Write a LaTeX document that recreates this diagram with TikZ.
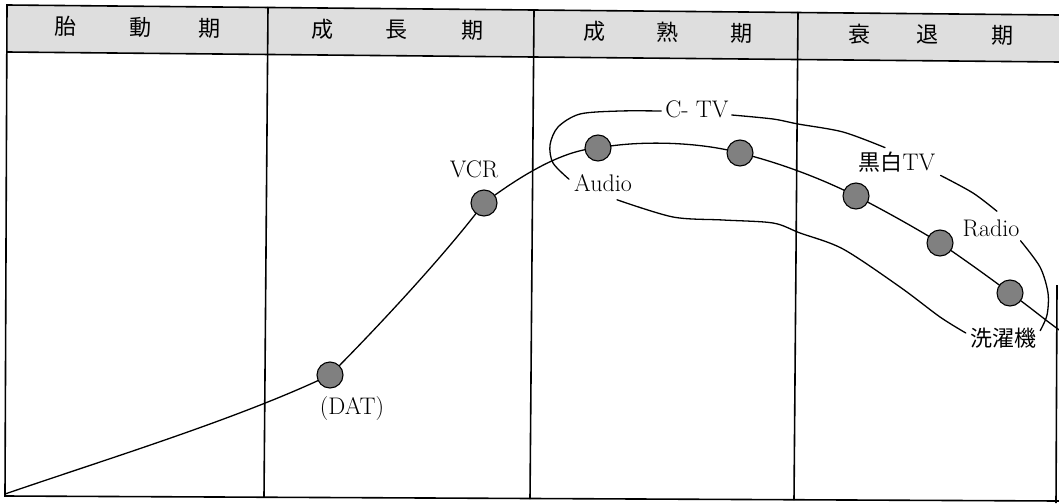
\documentclass[tikz,border=0pt]{standalone}
\usepackage{fontspec}
\newfontfamily\jp{Noto Sans CJK JP}
\usetikzlibrary{calc}
\begin{document}
\begin{tikzpicture}[x=1pt,y=-1pt,
  hdr/.style={font=\jp\fontsize{22}{22}\selectfont, inner sep=0pt, rotate=-0.55},
  lbl/.style={font=\fontsize{24}{24}\selectfont, inner sep=0pt},
  jlbl/.style={font=\jp\fontsize{22}{22}\selectfont, inner sep=0pt},
  dot/.style={circle, draw=black, line width=1.1pt, fill=black!50, minimum size=26pt, inner sep=0pt},
  frame/.style={line width=1.6pt},
  curve/.style={line width=1.3pt},
  loopline/.style={line width=1.3pt, line cap=round}
]
\useasboundingbox (0,0) rectangle (1059,503);
% header band and frame
\fill[black!13] (7,5) -- (1059,15) -- (1059,62) -- (7,52) -- cycle;
\draw[frame] (1059,15) -- (7,5) -- (5,496) -- (1059,501);
\draw[frame] (7,52) -- (1059,62);
\draw[frame] (268,7) -- (264,497);
\draw[frame] (534,10) -- (530,499);
\draw[frame] (798,12) -- (794,500);
\draw[frame] (1057,285) -- (1056,503);
\foreach \x/\c [count=\i] in {66/胎,141/動,210/期,323/成,397/長,473/期,595/成,668/熟,742/期,860/衰,928/退,1003/期}
  \node[hdr] (h\i) at (\x,{26+10*\x/1052}) {\c};
% curve points
\coordinate (p0) at (5,494);
\coordinate (cdat) at (330,375);
\coordinate (cvcr) at (484,203);
\coordinate (caudio) at (598,148);
\coordinate (cmid) at (740,153);
\coordinate (cbw) at (856,196);
\coordinate (cradio) at (940,243);
\coordinate (cwash) at (1010,293);
\coordinate (pend) at (1062,332);
\draw[curve] (p0) .. controls (110,458) and (240,418) .. (cdat)
  .. controls (375,330) and (445,255) .. (cvcr)
  .. controls (515,180) and (560,150) .. (caudio)
  .. controls (640,140) and (700,142) .. (cmid)
  .. controls (780,163) and (820,178) .. (cbw)
  .. controls (885,211) and (912,226) .. (cradio)
  .. controls (965,260) and (990,278) .. (cwash)
  .. controls (1030,307) and (1045,320) .. (pend);
\foreach \n in {dat,vcr,audio,mid,bw,radio,wash}
  \node[dot] (d\n) at (c\n) {};
% labels
\node[lbl] (lvcr) at (474,169) {VCR};
\node[lbl] (laudio) at (603,183) {Audio};
\node[lbl] (ldat) at (352,409) {(DAT)};
\node[lbl] (lctv) at (697,109) {C- TV};
\node[lbl] (lbw) at (897,162) {{\jp\fontsize{22}{22}\selectfont 黒白}TV};
\node[lbl] (lradio) at (991,228) {Radio};
\node[jlbl] (lwash) at (1003,338) {洗濯機};
% grouping loop
\coordinate (a1) at ($(laudio.north west)+(-5,5)$);
\coordinate (a2) at ($(lctv.west)+(-4,2)$);
\coordinate (b1) at ($(lctv.east)+(3,6)$);
\coordinate (b2) at ($(lbw.north)+(-12,-4)$);
\coordinate (c1) at ($(lbw.south east)+(5,3)$);
\coordinate (c2) at ($(lradio.north)+(6,-8)$);
\coordinate (e1) at ($(lradio.south east)+(1,4)$);
\coordinate (e2) at ($(lwash.north east)+(4,3)$);
\coordinate (f1) at ($(lwash.west)+(-4,-5)$);
\coordinate (f2) at ($(laudio.south)+(14,8)$);
\draw[loopline] plot[smooth] coordinates {(a1) (553,163) (550,145) (558,127) (580,114) (620,111) (a2)};
\draw[loopline] plot[smooth] coordinates {(b1) (773,119) (798,124) (843,132) (b2)};
\draw[loopline] plot[smooth] coordinates {(c1) (973,193) (c2)};
\draw[loopline] plot[smooth] coordinates {(e1) (1040,267) (1048,293) (1047,315) (e2)};
\draw[loopline] plot[smooth] coordinates {(f1) (940,317) (900,287) (843,249) (800,233) (773,223) (723,220) (673,217) (f2)};
\end{tikzpicture}
\end{document}
